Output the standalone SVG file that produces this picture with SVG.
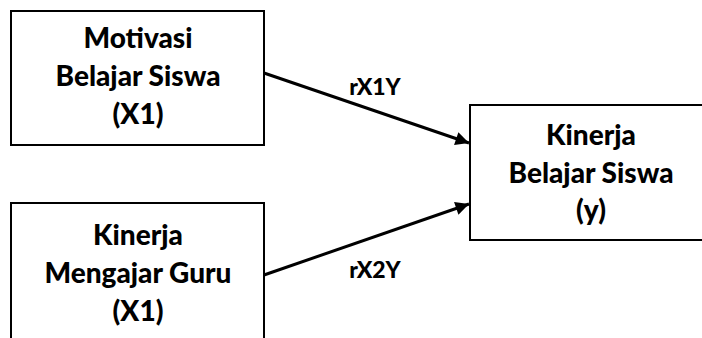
<svg xmlns="http://www.w3.org/2000/svg" width="702" height="338" viewBox="0 0 702 338">
  <style>
    .box { fill: #ffffff; stroke: #000000; stroke-width: 2; }
    .t { font-family: Lato, "Liberation Sans", sans-serif; font-weight: 900; font-size: 28px; fill: #000000; text-anchor: middle; }
    .lbl { font-family: Lato, "Liberation Sans", sans-serif; font-weight: 900; font-size: 23px; fill: #000000; text-anchor: middle; }
    .edge { stroke: #000000; stroke-width: 3; fill: none; marker-end: url(#head); }
  </style>
  <defs>
    <marker id="head" viewBox="0 0 10 10" refX="10" refY="5" markerWidth="5.5" markerHeight="4.5" orient="auto" markerUnits="strokeWidth">
      <path d="M0,0 L10,5 L0,10 z" fill="#000000"/>
    </marker>
  </defs>
  <rect width="702" height="338" fill="#ffffff"/>

  <g id="connectors">
    <line class="edge" x1="264" y1="73" x2="469" y2="143"/>
    <line class="edge" x1="264" y1="275" x2="469" y2="204"/>
    <text class="lbl" x="375" y="95">rX1Y</text>
    <text class="lbl" x="375" y="278">rX2Y</text>
  </g>

  <g id="node-x1">
    <rect class="box" x="11" y="11" width="253" height="134"/>
    <text class="t" x="138" y="48">Motivasi</text>
    <text class="t" x="138" y="86">Belajar Siswa</text>
    <text class="t" x="138" y="124">(X1)</text>
  </g>

  <g id="node-x2">
    <rect class="box" x="11" y="203" width="253" height="150"/>
    <text class="t" x="138" y="245">Kinerja</text>
    <text class="t" x="138" y="283">Mengajar Guru</text>
    <text class="t" x="138" y="321">(X1)</text>
  </g>

  <g id="node-y">
    <rect class="box" x="470" y="105" width="250" height="135"/>
    <text class="t" x="591" y="145">Kinerja</text>
    <text class="t" x="591" y="183">Belajar Siswa</text>
    <text class="t" x="591" y="220">(y)</text>
  </g>
</svg>
